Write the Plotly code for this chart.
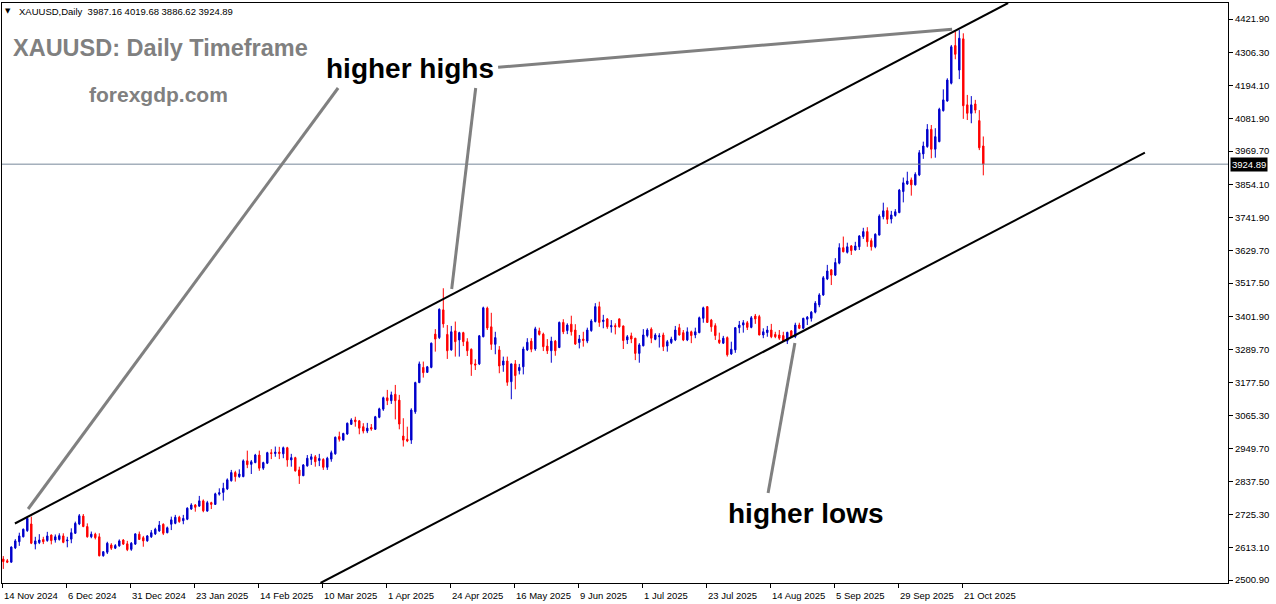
import plotly.graph_objects as go

# ---------------- data ----------------
symbol_header = "XAUUSD,Daily\u00a0\u00a03987.16 4019.68 3886.62 3924.89"

opens = [
    2573, 2567, 2562, 2611, 2632, 2649, 2670, 2693, 2624, 2629,
    2640, 2636, 2655, 2638, 2640, 2652, 2635, 2641, 2661, 2693,
    2720, 2684, 2649, 2658, 2649, 2584, 2596, 2621, 2610, 2618,
    2638, 2625, 2606, 2624, 2658, 2646, 2635, 2649, 2659, 2669,
    2692, 2663, 2692, 2695, 2716, 2704, 2709, 2744, 2758, 2754,
    2772, 2737, 2766, 2760, 2795, 2801, 2813, 2841, 2869, 2855,
    2855, 2909, 2897, 2903, 2929, 2884, 2901, 2937, 2934, 2939,
    2933, 2954, 2912, 2920, 2878, 2858, 2892, 2914, 2923, 2910,
    2914, 2887, 2915, 2933, 2992, 2980, 3001, 3034, 3049, 3046,
    3026, 3011, 3023, 3017, 3058, 3086, 3125, 3115, 3137, 3117,
    2994, 2983, 2980, 3077, 3177, 3229, 3212, 3229, 3343, 3331,
    3426, 3342, 3289, 3354, 3323, 3348, 3317, 3291, 3241, 3241,
    3334, 3432, 3368, 3308, 3289, 3237, 3251, 3180, 3241, 3218,
    3231, 3289, 3319, 3292, 3354, 3343, 3302, 3286, 3319, 3297,
    3383, 3355, 3377, 3357, 3314, 3326, 3319, 3355, 3386, 3437,
    3386, 3395, 3368, 3372, 3395, 3371, 3323, 3337, 3329, 3277,
    3303, 3338, 3360, 3325, 3334, 3340, 3302, 3314, 3323, 3365,
    3348, 3323, 3351, 3340, 3348, 3397, 3437, 3391, 3372, 3323,
    3312, 3331, 3275, 3289, 3365, 3374, 3382, 3366, 3405, 3403,
    3340, 3348, 3357, 3342, 3340, 3338, 3319, 3354, 3334, 3374,
    3363, 3394, 3397, 3418, 3443, 3477, 3532, 3563, 3545, 3586,
    3639, 3623, 3645, 3631, 3642, 3677, 3694, 3663, 3642, 3682,
    3745, 3766, 3737, 3749, 3759, 3831, 3857, 3871, 3854, 3888,
    3960, 3985, 4044, 3976, 4002, 4108, 4141, 4202, 4331, 4247,
    4354, 4128, 4099, 4131, 4074, 3987.16,
]
highs = [
    2583, 2573, 2616, 2641, 2663, 2677, 2714, 2718, 2649, 2658,
    2649, 2666, 2657, 2657, 2661, 2661, 2649, 2678, 2701, 2727,
    2727, 2695, 2667, 2663, 2661, 2599, 2632, 2627, 2624, 2640,
    2641, 2635, 2631, 2661, 2667, 2652, 2655, 2672, 2680, 2703,
    2695, 2684, 2718, 2724, 2721, 2724, 2750, 2764, 2761, 2789,
    2777, 2772, 2769, 2800, 2815, 2834, 2849, 2878, 2875, 2880,
    2914, 2944, 2912, 2933, 2944, 2906, 2940, 2949, 2958, 2957,
    2958, 2957, 2933, 2923, 2889, 2898, 2929, 2933, 2929, 2933,
    2918, 2923, 2944, 2992, 3009, 3005, 3040, 3055, 3060, 3049,
    3038, 3039, 3035, 3063, 3091, 3129, 3152, 3146, 3169, 3135,
    3055, 3026, 3089, 3180, 3249, 3249, 3234, 3314, 3360, 3431,
    3500, 3374, 3371, 3386, 3351, 3351, 3329, 3294, 3257, 3340,
    3437, 3437, 3416, 3351, 3302, 3266, 3266, 3242, 3254, 3241,
    3300, 3329, 3329, 3368, 3365, 3348, 3326, 3334, 3323, 3386,
    3394, 3380, 3406, 3377, 3340, 3351, 3365, 3394, 3449, 3454,
    3409, 3398, 3391, 3380, 3397, 3372, 3340, 3348, 3330, 3312,
    3360, 3363, 3366, 3346, 3346, 3348, 3323, 3334, 3371, 3378,
    3357, 3366, 3355, 3365, 3403, 3437, 3439, 3395, 3380, 3348,
    3337, 3335, 3317, 3366, 3388, 3391, 3388, 3405, 3412, 3409,
    3363, 3371, 3378, 3351, 3357, 3351, 3351, 3357, 3382, 3382,
    3399, 3405, 3422, 3456, 3483, 3542, 3580, 3565, 3603, 3654,
    3677, 3656, 3648, 3659, 3682, 3707, 3709, 3671, 3688, 3753,
    3793, 3777, 3765, 3771, 3840, 3879, 3899, 3879, 3897, 3973,
    4002, 4062, 4059, 4048, 4118, 4181, 4219, 4333, 4379, 4384,
    4373, 4162, 4158, 4145, 4110, 4019.68,
]
lows = [
    2539, 2559, 2561, 2607, 2618, 2647, 2666, 2624, 2606, 2624,
    2624, 2632, 2623, 2629, 2636, 2627, 2613, 2627, 2659, 2689,
    2682, 2646, 2644, 2640, 2582, 2581, 2590, 2604, 2607, 2615,
    2621, 2600, 2601, 2621, 2638, 2615, 2632, 2645, 2655, 2666,
    2655, 2661, 2672, 2692, 2697, 2692, 2706, 2741, 2735, 2752,
    2733, 2735, 2744, 2758, 2790, 2773, 2809, 2838, 2838, 2851,
    2853, 2884, 2864, 2901, 2875, 2878, 2898, 2915, 2923, 2915,
    2918, 2889, 2889, 2872, 2830, 2857, 2889, 2895, 2889, 2891,
    2878, 2878, 2906, 2930, 2975, 2979, 2998, 3032, 3026, 3000,
    3003, 3004, 3012, 3015, 3055, 3080, 3100, 3104, 3051, 3017,
    2958, 2973, 2967, 3070, 3175, 3194, 3210, 3226, 3283, 3326,
    3365, 3258, 3286, 3266, 3266, 3302, 3268, 3200, 3220, 3237,
    3332, 3357, 3289, 3274, 3209, 3214, 3166, 3120, 3154, 3205,
    3205, 3285, 3281, 3286, 3338, 3285, 3275, 3245, 3269, 3295,
    3343, 3343, 3338, 3306, 3294, 3300, 3312, 3351, 3383, 3368,
    3363, 3361, 3348, 3342, 3365, 3292, 3309, 3312, 3254, 3245,
    3301, 3332, 3312, 3322, 3297, 3285, 3283, 3309, 3319, 3338,
    3319, 3319, 3312, 3329, 3346, 3382, 3382, 3351, 3323, 3309,
    3309, 3266, 3272, 3279, 3346, 3348, 3357, 3363, 3378, 3339,
    3329, 3334, 3329, 3329, 3323, 3317, 3309, 3331, 3329, 3360,
    3360, 3374, 3386, 3414, 3435, 3474, 3528, 3511, 3542, 3582,
    3623, 3619, 3614, 3629, 3631, 3669, 3642, 3629, 3637, 3681,
    3736, 3720, 3722, 3745, 3757, 3794, 3854, 3817, 3852, 3884,
    3943, 3981, 3945, 3947, 4000, 4105, 4139, 4198, 4284, 4216,
    4080, 4076, 4065, 4099, 3973, 3886.62,
]
closes = [
    2564, 2562, 2614, 2635, 2652, 2675, 2712, 2627, 2635, 2638,
    2632, 2652, 2636, 2649, 2653, 2630, 2638, 2663, 2695, 2721,
    2684, 2649, 2658, 2646, 2584, 2598, 2627, 2610, 2619, 2635,
    2624, 2605, 2627, 2659, 2640, 2635, 2652, 2663, 2675, 2689,
    2661, 2680, 2707, 2716, 2701, 2712, 2747, 2758, 2750, 2772,
    2738, 2766, 2760, 2796, 2800, 2815, 2844, 2869, 2855, 2864,
    2909, 2896, 2906, 2929, 2884, 2903, 2937, 2934, 2939, 2934,
    2954, 2912, 2920, 2875, 2858, 2895, 2918, 2923, 2906, 2917,
    2887, 2918, 2937, 2990, 2983, 3003, 3038, 3049, 3043, 3021,
    3011, 3021, 3018, 3060, 3087, 3125, 3115, 3135, 3115, 3035,
    2980, 2977, 3083, 3177, 3241, 3211, 3231, 3312, 3326, 3428,
    3378, 3286, 3351, 3317, 3348, 3317, 3286, 3240, 3237, 3337,
    3433, 3364, 3308, 3331, 3234, 3251, 3178, 3241, 3201, 3229,
    3292, 3315, 3291, 3361, 3342, 3300, 3286, 3319, 3286, 3383,
    3351, 3374, 3351, 3309, 3326, 3321, 3357, 3388, 3437, 3383,
    3391, 3368, 3372, 3368, 3368, 3321, 3334, 3326, 3277, 3306,
    3340, 3357, 3329, 3340, 3337, 3300, 3317, 3326, 3357, 3340,
    3323, 3351, 3338, 3351, 3399, 3433, 3383, 3368, 3338, 3314,
    3329, 3272, 3291, 3365, 3374, 3382, 3366, 3399, 3395, 3340,
    3351, 3357, 3334, 3334, 3329, 3319, 3349, 3332, 3374, 3363,
    3397, 3401, 3418, 3449, 3477, 3536, 3559, 3545, 3588, 3639,
    3625, 3642, 3629, 3645, 3679, 3694, 3659, 3642, 3685, 3747,
    3765, 3736, 3751, 3762, 3836, 3861, 3867, 3854, 3890, 3964,
    3987, 4044, 3976, 4019, 4113, 4145, 4213, 4327, 4301, 4356,
    4125, 4099, 4128, 4110, 3981, 3924.89,
]

# price-axis tick values (as printed on the right-hand scale)
price_ticks = [4421.90, 4306.30, 4194.10, 4081.90, 3969.70, 3854.10, 3741.90,
               3629.70, 3517.50, 3401.90, 3289.70, 3177.50, 3065.30, 2949.70,
               2837.50, 2725.30, 2613.10, 2500.90]

# date labels, one every 16 bars
date_labels = ["14 Nov 2024", "6 Dec 2024", "31 Dec 2024", "23 Jan 2025",
               "14 Feb 2025", "10 Mar 2025", "1 Apr 2025", "24 Apr 2025",
               "16 May 2025", "9 Jun 2025", "1 Jul 2025", "23 Jul 2025",
               "14 Aug 2025", "5 Sep 2025", "29 Sep 2025", "21 Oct 2025"]
bars_per_label = 16

current_price = 3924.89

# channel trend lines (bar index, price)
upper_channel = [(2.9, 2694.5), (251.2, 4476.7)]
lower_channel = [(79.3, 2490.8), (285.4, 3964.5)]
# grey pointer lines (bar index, price)
pointers = [
    [(83.7, 4185.7), (6.2, 2744.2)],
    [(118.1, 4185.7), (112.1, 3497.5)],
    [(123.7, 4256.6), (237.2, 4386.7)],
    [(197.9, 3312.6), (191.2, 2798.9)],
]

# ---------------- figure ----------------
bar_index = list(range(len(opens)))

fig = go.Figure()
fig.add_trace(go.Candlestick(
    x=bar_index, open=opens, high=highs, low=lows, close=closes,
    increasing=dict(line=dict(color="#0000CC", width=1), fillcolor="#0000CC"),
    decreasing=dict(line=dict(color="#FF0000", width=1), fillcolor="#FF0000"),
    whiskerwidth=0, showlegend=False, hoverinfo="skip",
))

shapes = []
# current price line
shapes.append(dict(type="line", xref="paper", x0=0, x1=1, yref="y",
                   y0=current_price, y1=current_price,
                   line=dict(color="#778899", width=1)))
for (x0, y0), (x1, y1) in [upper_channel, lower_channel]:
    shapes.append(dict(type="line", xref="x", yref="y", x0=x0, y0=y0, x1=x1, y1=y1,
                       line=dict(color="black", width=2)))
for (x0, y0), (x1, y1) in pointers:
    shapes.append(dict(type="line", xref="x", yref="y", x0=x0, y0=y0, x1=x1, y1=y1,
                       line=dict(color="#808080", width=3)))

annotations = []
# date labels (left-aligned at their tick, as MT4 draws them)
tick_x = [k * bars_per_label - 0.325 for k in range(len(date_labels))]
for tx, lab in zip(tick_x, date_labels):
    annotations.append(dict(x=tx, xref="x", y=-0.0216, yref="paper",
                            xanchor="left", yanchor="middle", xshift=0,
                            text=lab, showarrow=False,
                            font=dict(size=9.5, color="black")))
# price box
annotations.append(dict(x=1, xref="paper", y=current_price, yref="y",
                        xanchor="left", yanchor="middle", xshift=2,
                        text=f"{current_price:.2f}", showarrow=False,
                        bgcolor="black", borderpad=1,
                        font=dict(size=9.5, color="white")))
# header
annotations.append(dict(x=0.0049, xref="paper", y=0.9862, yref="paper",
                        xanchor="center", yanchor="middle", text="\u25BC",
                        showarrow=False, font=dict(size=7, color="black",
                                                   family="DejaVu Sans")))
annotations.append(dict(x=0.0125, xref="paper", y=0.9862, yref="paper",
                        xanchor="left", yanchor="middle", text=symbol_header,
                        showarrow=False, font=dict(size=9.5, color="black")))
# titles and labels
annotations.append(dict(x=0.0075, xref="paper", y=0.9224, yref="paper",
                        xanchor="left", yanchor="middle",
                        text="<b>XAUUSD: Daily Timeframe</b>", showarrow=False,
                        font=dict(size=23.5, color="#808080")))
annotations.append(dict(x=0.0693, xref="paper", y=0.8431, yref="paper",
                        xanchor="left", yanchor="middle",
                        text="<b>forexgdp.com</b>", showarrow=False,
                        font=dict(size=21, color="#808080")))
annotations.append(dict(x=0.2625, xref="paper", y=0.8879, yref="paper",
                        xanchor="left", yanchor="middle",
                        text="<b>higher highs</b>", showarrow=False,
                        font=dict(size=28, color="black")))
annotations.append(dict(x=0.5905, xref="paper", y=0.119, yref="paper",
                        xanchor="left", yanchor="middle",
                        text="<b>higher lows</b>", showarrow=False,
                        font=dict(size=28, color="black")))

fig.update_layout(
    width=1276, height=604,
    margin=dict(l=2, r=48, t=3, b=21, pad=0),
    paper_bgcolor="white", plot_bgcolor="white",
    font=dict(family="Liberation Sans", color="black"),
    boxgap=0.5,
    shapes=shapes, annotations=annotations,
    showlegend=False,
    xaxis=dict(range=[-0.325, 306.175], rangeslider=dict(visible=False),
               showgrid=False, zeroline=False, showline=True, linecolor="black",
               linewidth=1, mirror=True, ticks="outside", ticklen=4,
               tickcolor="black", tickvals=tick_x, showticklabels=False),
    yaxis=dict(range=[2490.8, 4476.7], side="right", showgrid=False,
               zeroline=False, showline=True, linecolor="black", linewidth=1,
               mirror=True, ticks="outside", ticklen=4, tickcolor="black",
               tickvals=price_ticks, ticktext=[f"{v:.2f}" for v in price_ticks],
               tickfont=dict(size=9.5, color="black")),
)

fig.write_html("out.html", config={"displayModeBar": False},
               post_script="document.body.style.margin='0';document.body.style.overflow='hidden';")
